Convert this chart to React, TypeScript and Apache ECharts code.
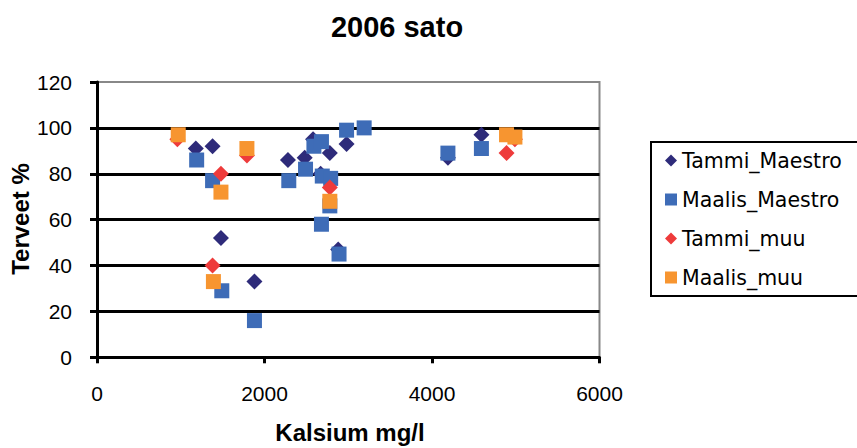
import React, { useEffect, useRef } from "react";
import * as echarts from "echarts";

const titleText = "2006 sato";
const xName = "Kalsium mg/l";
const yName = "Terveet %";
const seriesNames = ["Tammi_Maestro", "Maalis_Maestro", "Tammi_muu", "Maalis_muu"];

const tammiMaestro: [number, number][] = [
  [1180, 91], [1380, 92], [1480, 52], [1880, 33], [2280, 86], [2480, 87], [2580, 95],
  [2670, 80], [2780, 89], [2880, 47], [2980, 93], [4190, 87], [4590, 97],
];
const maalisMaestro: [number, number][] = [
  [1190, 86], [1380, 77], [1490, 29], [1880, 16], [2290, 77], [2490, 82], [2590, 92],
  [2680, 94], [2690, 79], [2790, 78], [2780, 66], [2680, 58], [2890, 45], [2980, 99],
  [3190, 100], [4190, 89], [4590, 91],
];
const tammiMuu: [number, number][] = [
  [960, 95], [1380, 40], [1480, 80], [1790, 88], [2780, 74], [4890, 89], [4990, 95],
];
const maalisMuu: [number, number][] = [
  [970, 97], [1390, 33], [1480, 72], [1790, 91], [2780, 68], [4890, 97], [4990, 96],
];

const colors = ["#2E2B7A", "#3E6CB7", "#EE3B3B", "#F79530"];

export default function App() {
  const ref = useRef<HTMLDivElement>(null);
  useEffect(() => {
    document.body.style.margin = "0";
    if (!ref.current) return;
    const chart = echarts.init(ref.current, undefined, { renderer: "svg" });
    const font = "Arial";
    const mk = (name: string, data: [number, number][], symbol: string, size: number, color: string) => ({
      type: "scatter",
      name,
      data,
      symbol,
      symbolSize: size,
      itemStyle: { color, opacity: 1 },
    });
    chart.setOption({
      animation: false,
      backgroundColor: "#fff",
      grid: {
        left: 97,
        top: 82,
        right: 257.5,
        bottom: 90.7,
        show: true,
        borderColor: "#888",
        borderWidth: 2,
        backgroundColor: "#fff",
      },
      xAxis: {
        type: "value",
        min: 0,
        max: 6000,
        interval: 2000,
        axisLine: { show: true, lineStyle: { color: "#000", width: 3 } },
        axisTick: { show: true, inside: false, length: 6, lineStyle: { color: "#000", width: 3 } },
        axisLabel: {
          color: "#000",
          fontFamily: font,
          fontSize: 21,
          margin: 26,
          formatter: (v: number) => String(v),
        },
        splitLine: { show: false },
      },
      yAxis: {
        type: "value",
        min: 0,
        max: 120,
        interval: 20,
        axisLine: { show: true, lineStyle: { color: "#000", width: 3 } },
        axisTick: { show: true, inside: false, length: 7, lineStyle: { color: "#000", width: 3 } },
        axisLabel: {
          color: "#000",
          fontFamily: font,
          fontSize: 21,
          margin: 25,
          formatter: (v: number) => String(v),
        },
        splitLine: { show: true, showMaxLine: false, lineStyle: { color: "#000", width: 3 } },
      },
      legend: {
        orient: "vertical",
        left: 651,
        top: 142,
        padding: [8, 24, 8, 14],
        itemGap: 18,
        itemWidth: 12,
        itemHeight: 12,
        borderColor: "#000",
        borderWidth: 2,
        backgroundColor: "#fff",
        textStyle: { color: "#000", fontFamily: "DejaVu Sans", fontSize: 20.5 },
        data: [
          { name: seriesNames[0], icon: "diamond" },
          { name: seriesNames[1], icon: "rect" },
          { name: seriesNames[2], icon: "diamond" },
          { name: seriesNames[3], icon: "rect" },
        ],
      },
      graphic: [
        {
          type: "text",
          x: 397,
          y: 27,
          style: {
            text: titleText,
            fill: "#000",
            font: `bold 29px ${font}`,
            align: "center",
            verticalAlign: "middle",
          },
        },
        {
          type: "text",
          x: 350,
          y: 432,
          style: {
            text: xName,
            fill: "#000",
            font: `bold 24px ${font}`,
            align: "center",
            verticalAlign: "middle",
          },
        },
        {
          type: "text",
          x: 20.5,
          y: 219,
          rotation: Math.PI / 2,
          style: {
            text: yName,
            fill: "#000",
            font: `bold 24px ${font}`,
            align: "center",
            verticalAlign: "middle",
          },
        },
      ],
      series: [
        mk(seriesNames[0], tammiMaestro, "diamond", 16, colors[0]),
        mk(seriesNames[1], maalisMaestro, "rect", 15, colors[1]),
        mk(seriesNames[2], tammiMuu, "diamond", 16, colors[2]),
        mk(seriesNames[3], maalisMuu, "rect", 15, colors[3]),
      ],
    });
    return () => chart.dispose();
  }, []);
  return <div ref={ref} style={{ width: 857, height: 448 }} />;
}
